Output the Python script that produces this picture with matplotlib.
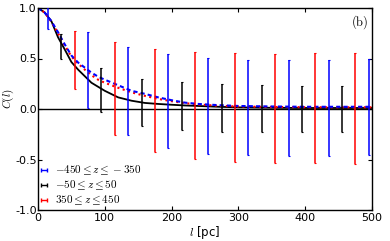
import numpy as np
import matplotlib
matplotlib.use("Agg")
import matplotlib.pyplot as plt
from matplotlib.container import ErrorbarContainer
from matplotlib.legend_handler import HandlerErrorbar

plt.rcParams['mathtext.fontset'] = 'cm'
plt.rcParams['axes.unicode_minus'] = False
plt.rcParams['font.family'] = ['DejaVu Sans']

# ---- data ----
curve_l = [0, 10, 20, 30, 40, 50, 60, 70, 80, 90, 100, 120, 140, 160, 180, 200,
           220, 240, 270, 300, 350, 400, 450, 500]
c_low = [1.0, 0.955, 0.87, 0.76, 0.64, 0.53, 0.46, 0.41, 0.36, 0.32, 0.29, 0.235,
         0.18, 0.15, 0.115, 0.087, 0.063, 0.05, 0.038, 0.03, 0.025, 0.022, 0.022, 0.022]
c_mid = [1.0, 0.955, 0.87, 0.71, 0.59, 0.465, 0.39, 0.325, 0.26, 0.22, 0.18, 0.115,
         0.082, 0.06, 0.05, 0.042, 0.035, 0.03, 0.022, 0.016, 0.012, 0.01, 0.01, 0.01]
c_high = [1.0, 0.955, 0.865, 0.75, 0.63, 0.52, 0.45, 0.39, 0.335, 0.29, 0.26, 0.21,
          0.165, 0.13, 0.10, 0.077, 0.058, 0.045, 0.032, 0.025, 0.02, 0.018, 0.017, 0.017]

bar_l_low = [15, 75, 135, 195, 255, 315, 375, 435, 495]
bar_c_low = [0.905, 0.385, 0.178, 0.075, 0.028, 0.015, 0.012, 0.01, 0.018]
bar_e_low = [0.115, 0.375, 0.433, 0.465, 0.473, 0.475, 0.473, 0.48, 0.478]

bar_l_mid = [35, 95, 155, 215, 275, 335, 395, 455]
bar_c_mid = [0.62, 0.186, 0.065, 0.033, 0.01, 0.005, 0.0, 0.0]
bar_e_mid = [0.12, 0.22, 0.235, 0.238, 0.24, 0.235, 0.23, 0.23]

bar_l_high = [55, 115, 175, 235, 295, 355, 415, 475]
bar_c_high = [0.485, 0.20, 0.08, 0.032, 0.015, 0.008, 0.01, 0.008]
bar_e_high = [0.285, 0.46, 0.51, 0.528, 0.54, 0.538, 0.54, 0.548]

labels = [r'$-450 \leq z \leq -350$', r'$-50 \leq z \leq 50$', r'$350 \leq z \leq 450$']
colors = ['b', 'k', 'r']
xticks = [0, 100, 200, 300, 400, 500]
yticks = [-1.0, -0.5, 0.0, 0.5, 1.0]

fig = plt.figure(figsize=(3.9, 2.41), dpi=100)
ax = fig.add_axes([38/390, 1-210/241, 334/390, 202/241])

ax.axhline(0, color='k', lw=1.0, zorder=1)
ax.plot(curve_l, c_mid, color='k', ls='-', lw=1.3, zorder=2)
ax.plot(curve_l, c_high, color='r', ls=':', lw=1.5, zorder=2)
ax.plot(curve_l, c_low, color='b', ls=(0, (2, 1.5)), lw=1.5, zorder=2)

for bl, bc, be, col in [(bar_l_low, bar_c_low, bar_e_low, 'b'),
                        (bar_l_mid, bar_c_mid, bar_e_mid, 'k'),
                        (bar_l_high, bar_c_high, bar_e_high, 'r')]:
    ax.errorbar(bl, bc, yerr=be, fmt='none', ecolor=col, elinewidth=1.1,
                capsize=0.8, capthick=0.8, zorder=3)

handles = []
for col, lab in zip(colors, labels):
    h = ax.errorbar([np.nan], [np.nan], xerr=[1], fmt='none', ecolor=col,
                    elinewidth=1.0, capsize=1.5, capthick=1.0, label=lab)
    handles.append(h)

leg = ax.legend(handles=handles, labels=labels, loc='lower left', frameon=False,
                fontsize=8, handlelength=0.6, handletextpad=0.7, labelspacing=0.15,
                borderaxespad=0.1, borderpad=0.15, numpoints=1,
                handler_map={ErrorbarContainer: HandlerErrorbar(xerr_size=0.28)})

ax.set_xlim(0, 500)
ax.set_ylim(-1, 1)
ax.set_xticks(xticks)
ax.set_yticks(yticks)
ax.set_yticklabels(['%.1f' % v for v in yticks])
ax.tick_params(direction='in', top=True, right=True, length=3, width=0.8,
               labelsize=8)
ax.tick_params(axis='y', pad=1)
ax.tick_params(axis='x', pad=2)
for s in ax.spines.values():
    s.set_linewidth(1.0)

ax.set_xlabel(r'$l$ [pc]', fontsize=8.5, labelpad=1)
ax.set_ylabel(r'$C(l)$', fontsize=8)
ax.yaxis.set_label_coords(-0.066, 0.55)
ax.text(0.99, 0.975, r'$\mathrm{(b)}$', transform=ax.transAxes, ha='right',
        va='top', fontsize=9)

fig.savefig('out.png', dpi=100)
